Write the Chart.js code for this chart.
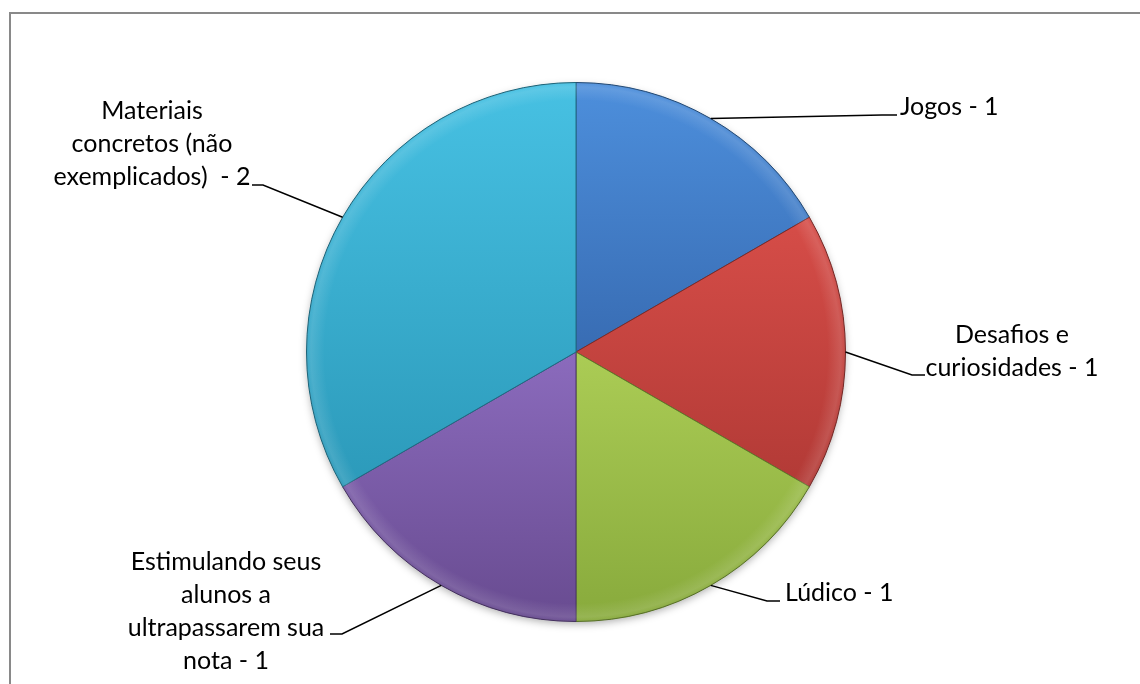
<!DOCTYPE html>
<html>
<head>
<meta charset="utf-8">
<script src="https://cdn.jsdelivr.net/npm/chart.js@4"></script>
<style>
  html, body { margin: 0; padding: 0; background: #fff; }
  canvas { display: block; }
</style>
</head>
<body>
<canvas id="pieChart" width="1140" height="684"></canvas>
<script>
// categories, wrapped the way they are printed next to the pie
const categoryLines = [
    ['Jogos'],
    ['Desafios e', 'curiosidades'],
    ['Lúdico'],
    ['Estimulando seus', 'alunos a', 'ultrapassarem sua', 'nota'],
    ['Materiais', 'concretos (não', 'exemplicados) ']
];
const counts = [1, 1, 1, 1, 2];

// top / bottom shade of each slice
const lightColors = ['#4d8fdc', '#d64d48', '#abcc55', '#8b6bbd', '#47c1e3'];
const darkColors  = ['#386cb3', '#b23a36', '#88aa3c', '#684b90', '#2c9aba'];
const edgeColors  = ['#26507f', '#7e2a27', '#5f7a2a', '#4a3467', '#1f6d84'];

// where each label sits and how its leader line bends
const labelLayout = [
    { x: 900, y: 115, align: 'left', elbow: [882, 115], tail: [897, 115] },
    { x: 1012, y: 343, align: 'center', elbow: [912, 375], tail: [925, 375] },
    { x: 785, y: 601, align: 'left', elbow: [767, 601], tail: [780, 601] },
    { x: 226, y: 570, align: 'center', elbow: [342, 634], tail: [330, 634] },
    { x: 152, y: 119, align: 'center', elbow: [263, 185], tail: [252, 185] }
];
const lineHeight = 33;
const labelFont = '25px Lato, "Open Sans", sans-serif';

const total = counts.reduce((a, b) => a + b, 0);

// vertical extent of slice i, used for its gradient
function sliceExtent(area, i) {
    const cx = (area.left + area.right) / 2;
    const cy = (area.top + area.bottom) / 2;
    const r = Math.min(area.width, area.height) / 2;
    let before = 0;
    for (let k = 0; k < i; k++) before += counts[k];
    const a0 = before / total * Math.PI * 2 - Math.PI / 2;
    const a1 = (before + counts[i]) / total * Math.PI * 2 - Math.PI / 2;
    const ys = [cy];
    for (let s = 0; s <= 24; s++) {
        const a = a0 + (a1 - a0) * s / 24;
        ys.push(cy + Math.sin(a) * r);
    }
    return [Math.min(...ys), Math.max(...ys)];
}

const framePlugin = {
    id: 'frame',
    beforeDraw(chart) {
        const ctx = chart.ctx;
        ctx.save();
        ctx.strokeStyle = '#898989';
        ctx.lineWidth = 2;
        ctx.beginPath();
        ctx.moveTo(10, 684);
        ctx.lineTo(10, 13);
        ctx.lineTo(1140, 13);
        ctx.stroke();
        ctx.restore();
    }
};

const pieShade = {
    id: 'pieShade',
    beforeDatasetsDraw(chart) {
        const arc = chart.getDatasetMeta(0).data[0];
        if (!arc) return;
        const ctx = chart.ctx;
        ctx.save();
        ctx.shadowColor = 'rgba(0,0,0,0.35)';
        ctx.shadowBlur = 9;
        ctx.shadowOffsetY = 3;
        ctx.fillStyle = '#888';
        ctx.beginPath();
        ctx.arc(arc.x, arc.y, arc.outerRadius - 1, 0, Math.PI * 2);
        ctx.fill();
        ctx.restore();
    },
    afterDatasetsDraw(chart) {
        const arc = chart.getDatasetMeta(0).data[0];
        if (!arc) return;
        const ctx = chart.ctx;
        const r = arc.outerRadius;
        ctx.save();
        const g = ctx.createRadialGradient(arc.x, arc.y, r - 18, arc.x, arc.y, r);
        g.addColorStop(0, 'rgba(255,255,255,0)');
        g.addColorStop(0.75, 'rgba(255,255,255,0.12)');
        g.addColorStop(0.92, 'rgba(255,255,255,0.06)');
        g.addColorStop(1, 'rgba(0,0,0,0.18)');
        ctx.fillStyle = g;
        ctx.beginPath();
        ctx.arc(arc.x, arc.y, r, 0, Math.PI * 2);
        ctx.arc(arc.x, arc.y, r - 18, 0, Math.PI * 2, true);
        ctx.fill();
        ctx.restore();
    }
};

const leaderLabels = {
    id: 'leaderLabels',
    afterDraw(chart) {
        const ctx = chart.ctx;
        const arcs = chart.getDatasetMeta(0).data;
        ctx.save();
        ctx.font = labelFont;
        ctx.fillStyle = '#000';
        ctx.strokeStyle = '#000';
        ctx.lineWidth = 1.5;
        arcs.forEach((arc, i) => {
            const lay = labelLayout[i];
            const mid = (arc.startAngle + arc.endAngle) / 2;
            const sx = arc.x + Math.cos(mid) * arc.outerRadius;
            const sy = arc.y + Math.sin(mid) * arc.outerRadius;
            ctx.beginPath();
            ctx.moveTo(sx, sy);
            ctx.lineTo(lay.elbow[0], lay.elbow[1]);
            ctx.lineTo(lay.tail[0], lay.tail[1]);
            ctx.stroke();

            const lines = categoryLines[i].slice();
            lines[lines.length - 1] += ' - ' + counts[i];
            ctx.textAlign = lay.align;
            ctx.textBaseline = 'alphabetic';
            lines.forEach((t, j) => ctx.fillText(t, lay.x, lay.y + j * lineHeight));
        });
        ctx.restore();
    }
};

new Chart(document.getElementById('pieChart'), {
    type: 'pie',
    data: {
        labels: categoryLines.map(l => l.join(' ')),
        datasets: [{
            data: counts,
            backgroundColor(context) {
                const i = context.dataIndex;
                const area = context.chart.chartArea;
                if (!area || i === undefined) return lightColors[i] || '#888';
                const [y0, y1] = sliceExtent(area, i);
                const g = context.chart.ctx.createLinearGradient(0, y0, 0, y1);
                g.addColorStop(0, lightColors[i]);
                g.addColorStop(1, darkColors[i]);
                return g;
            },
            borderColor: edgeColors,
            borderWidth: 1
        }]
    },
    options: {
        responsive: false,
        animation: false,
        layout: { padding: { top: 82, bottom: 62, left: 12, right: 0 } },
        plugins: {
            legend: { display: false },
            tooltip: { enabled: false }
        }
    },
    plugins: [framePlugin, pieShade, leaderLabels]
});
</script>
</body>
</html>
